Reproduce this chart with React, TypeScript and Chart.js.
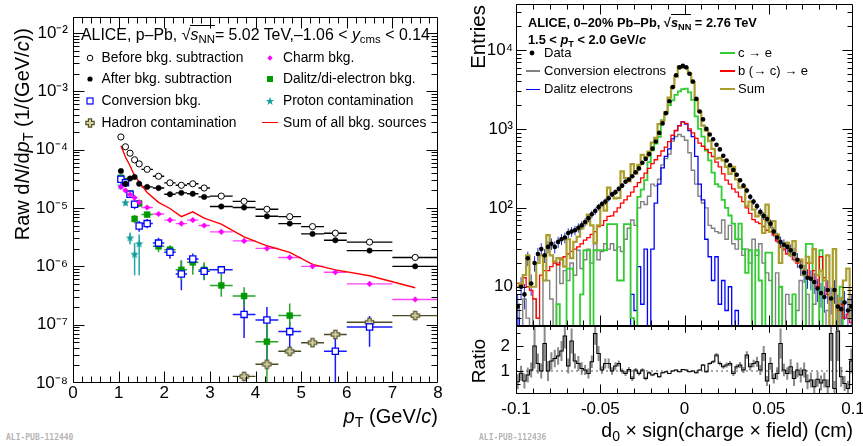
import React, { useEffect, useRef } from 'react';
import { Chart, registerables } from 'chart.js';
Chart.register(...registerables);

const FONT = '"Liberation Sans", Arial, Helvetica, sans-serif';

// ---------------- Left panel: raw pT spectra ----------------
const ptEdges = [1.0, 1.1, 1.2, 1.3, 1.4, 1.5, 1.75, 2.0, 2.25, 2.5, 2.75, 3.0, 3.5, 4.0, 4.5, 5.0, 5.5, 6.0, 7.0, 8.0];
const beforeSub = [1.65e-4, 1.12e-4, 8.7e-5, 6.7e-5, 5.7e-5, 4.6e-5, 3.5e-5, 2.7e-5, 2.45e-5, 2.6e-5, 2.2e-5, 1.6e-5, 1.3e-5, 9.5e-6, 7.1e-6, 4.8e-6, 3.7e-6, 2.6e-6, 1.42e-6];
const afterSub = [4.3e-5, 2.6e-5, 3.2e-5, 3.4e-5, 2.6e-5, 2.3e-5, 2.2e-5, 1.72e-5, 1.82e-5, 1.75e-5, 1.55e-5, 1.06e-5, 1.02e-5, 7.2e-6, 5.4e-6, 3.6e-6, 2.8e-6, 1.86e-6, 1.0e-6];
const charmBkg = [2.3e-5, 2.0e-5, 1.7e-5, 1.5e-5, 1.25e-5, 1.02e-5, 7.9e-6, 6.2e-6, 5.4e-6, 6.2e-6, 5.0e-6, 3.9e-6, 2.73e-6, 2.03e-6, 1.42e-6, 1.0e-6, 7.9e-7, 5.0e-7, 2.7e-7];
const conversionBkg = [3.1e-5, 2.7e-5, 1.72e-5, 1.16e-5, 4.9e-6, 5.4e-6, 2.5e-6, 1.74e-6, 7.4e-7, 1.34e-6, 8.2e-7, 8.7e-7, 1.5e-7, 1.2e-7, 7.6e-8, null, 3.5e-8, 9.1e-8, null];
const conversionLo = [2.6e-5, 2.3e-5, 1.5e-5, 9.5e-6, 3.9e-6, 4.5e-6, 2.0e-6, 1.35e-6, 3.9e-7, 8.9e-7, 5.9e-7, 7.5e-7, 5.9e-8, 2.2e-8, 3.2e-8, null, 1e-9, 4.2e-8, null];
const conversionHi = [3.6e-5, 3.2e-5, 2.0e-5, 1.4e-5, 6.0e-6, 6.5e-6, 3.1e-6, 2.2e-6, 1.26e-6, 1.66e-6, 1.07e-6, 1.0e-6, 2.95e-7, 2.0e-7, 1.12e-7, null, 5.9e-8, 1.41e-7, null];
const dalitzBkg = [3.3e-5, 2.9e-5, 1.78e-5, 6.5e-6, 1.2e-5, 7.7e-6, 2.2e-6, 1.93e-6, 8.7e-7, 1.17e-6, 8.7e-7, 4.7e-7, 3.1e-7, 5.1e-8, 1.43e-7, null, null, null, null];
const dalitzLo = [2.9e-5, 2.6e-5, 1.6e-5, 5.5e-6, 1.05e-5, 6.8e-6, 1.75e-6, 1.6e-6, 5.8e-7, 7.2e-7, 5.8e-7, 3.0e-7, 2.0e-7, 1e-9, 9.3e-8, null, null, null, null];
const dalitzHi = [3.7e-5, 3.2e-5, 2.0e-5, 7.6e-6, 1.35e-5, 8.6e-6, 2.6e-6, 2.3e-6, 1.26e-6, 1.58e-6, 1.17e-6, 7.4e-7, 4.4e-7, 1.2e-7, 2.3e-7, null, null, null, null];
const protonCont = [2.4e-5, 1.24e-5, 3.1e-6, 1.62e-6, 2.46e-6, null, null, null, null, null, null, null, null, null, null, null, null, null, null];
const protonLo = [2.1e-5, 1.1e-5, 2.4e-6, 7e-7, 7e-7, null, null, null, null, null, null, null, null, null, null, null, null, null, null];
const protonHi = [2.7e-5, 1.4e-5, 3.8e-6, 2.5e-6, 3.5e-6, null, null, null, null, null, null, null, null, null, null, null, null, null, null];
const hadronCont = [null, null, null, null, null, null, null, null, null, null, null, null, 1.3e-8, 2.1e-8, 3.5e-8, 4.9e-8, 6.8e-8, 1.1e-7, 1.43e-7];
const hadronLo = [null, null, null, null, null, null, null, null, null, null, null, null, 1.1e-8, 1.8e-8, 3.0e-8, 4.3e-8, 6.0e-8, 9.8e-8, 1.3e-7];
const hadronHi = [null, null, null, null, null, null, null, null, null, null, null, null, 1.5e-8, 2.4e-8, 4.0e-8, 5.5e-8, 7.6e-8, 1.25e-7, 1.6e-7];
const sumBkg = [1.17e-4, 7.5e-5, 5.3e-5, 3.6e-5, 2.8e-5, 1.85e-5, 1.25e-5, 9.8e-6, 7.1e-6, 8.6e-6, 6.7e-6, 5.3e-6, 3.2e-6, 2.25e-6, 1.74e-6, 1.08e-6, 8.7e-7, 6.9e-7, 4.3e-7];

const leftXTickValues = [0, 1, 2, 3, 4, 5, 6, 7, 8];
const leftXTickLabels = ['0', '1', '2', '3', '4', '5', '6', '7', '8'];
const leftYTickValues = [1e-8, 1e-7, 1e-6, 1e-5, 1e-4, 1e-3, 1e-2];
const leftYTickLabels = ['10⁻⁸', '10⁻⁷', '10⁻⁶', '10⁻⁵', '10⁻⁴', '10⁻³', '10⁻²'];
const LEFT_YMIN = 1e-8;
const LEFT_YMAX = 0.0188;

// ---------------- Right panel: d0 distributions ----------------
const D0_MIN = -0.1;
const D0_MAX = 0.1;
const D0_BIN = 0.002;
const dataEntries = [5.6, 10, 8, 23, 11, 20, 26, 30, 25, 32,
  35, 32, 37, 40, 42, 48, 50, 52, 56, 60,
  66, 74, 83, 91, 102, 112, 120, 132, 148, 158,
  174, 191, 214, 229, 251, 282, 316, 372, 417, 479,
  562, 692, 891, 1175, 1585, 2239, 3388, 4786, 6026, 6310,
  6030, 5010, 3980, 2400, 1660, 1320, 1000, 851, 741, 631,
  550, 457, 398, 347, 302, 263, 224, 191, 166, 138,
  120, 105, 89, 79, 72, 63, 50, 42, 37, 34,
  32, 29, 26, 22, 18, 15, 13, 12.6, 11.5, 9.5,
  8.3, 7.4, 9.1, 7.1, 9.1, 5.6, 5.2, 6.3, 5, 5.6];
const sumEntries = [10, 11, 14, 25, 10, 10, 20, 25, 12, 45,
  25, 21, 23, 22, 18, 40, 23, 37, 43, 55,
  63, 82, 60, 36, 60, 108, 92, 180, 148, 132,
  134, 290, 238, 216, 358, 271, 351, 470, 440, 515,
  670, 770, 1150, 1260, 1630, 2490, 3390, 4600, 6200, 5950,
  6000, 5000, 3900, 2400, 1650, 1100, 950, 700, 560, 420,
  430, 400, 330, 270, 330, 230, 180, 185, 105, 120,
  95, 78, 86, 48, 110, 50, 68, 46, 20, 33,
  36, 25, 38, 21, 22, 14, 24, 20, 30, 14,
  16, 12, 25, 3, 30, 2, 7, 12, 17, 4];
const charmEntries = [0, 0, 0, 0, 0, 0, 0, 0, 0, 0,
  0, 0, 6, 0, 0, 17, 17, 0, 0, 8,
  29, 29, 0, 29, 29, 29, 29, 62, 62, 62,
  12, 12, 62, 62, 4, 0, 138, 170, 224, 380,
  537, 650, 794, 1290, 1600, 2000, 2300, 2700, 3000, 3200,
  3240, 2900, 2340, 1440, 1000, 800, 530, 400, 280, 200,
  186, 126, 100, 80, 63, 40, 63, 30, 15, 29,
  0, 29, 12, 0, 27, 27, 0, 0, 10, 0,
  0, 0, 8, 0, 0, 0, 35, 35, 0, 0,
  29, 0, 0, 0, 0, 0, 10, 0, 0, 0];
const beautyEntries = [11, 10, 13, 10, 9, 7, 4, 14, 16, 16,
  18, 20, 19, 23, 24, 26, 28, 30, 32, 35,
  39, 42, 46, 50, 58, 60, 69, 78, 79, 89,
  100, 115, 126, 141, 158, 186, 209, 240, 275, 316,
  363, 407, 457, 525, 589, 692, 832, 955, 1096, 1230,
  1175, 1000, 891, 759, 661, 603, 550, 501, 447, 380,
  331, 269, 224, 200, 174, 158, 138, 120, 100, 85,
  71, 66, 63, 58, 52, 50, 45, 38, 32, 30,
  26, 25, 22, 20, 21, 16, 20, 13, 16, 10,
  24, 13, 8, 7, 9, 5, 6, 4, 4.5, 3.5];
const conversionEntries = [6, 0, 7, 4, 0, 7, 4, 0, 12, 12,
  7, 0, 20, 11, 16, 12, 20, 14, 29, 17,
  22, 30, 20, 35, 22, 28, 35, 30, 35, 29,
  32, 28, 40, 55, 70, 60, 100, 120, 110, 140,
  200, 190, 230, 350, 420, 480, 700, 800, 850, 800,
  720, 500, 300, 200, 140, 115, 100, 60, 55, 50,
  48, 70, 40, 60, 35, 30, 40, 25, 30, 20,
  40, 25, 35, 20, 15, 12, 0, 15, 10, 0,
  8, 6, 0, 5, 12, 0, 8, 0, 6, 10,
  0, 0, 5, 0, 0, 0, 0, 0, 0, 0];
const dalitzEntries = [4, 0, 0, 0, 0, 0, 0, 0, 0, 0,
  0, 0, 0, 0, 0, 0, 0, 0, 0, 0,
  0, 0, 0, 0, 0, 0, 0, 0, 0, 0,
  0, 0, 0, 0, 8, 5, 18, 6, 30, 0,
  30, 115, 200, 320, 450, 560, 750, 950, 1100, 1230,
  1150, 950, 800, 450, 200, 126, 40, 24, 12, 24,
  6, 12, 5, 10, 0, 5, 0, 0, 0, 0,
  0, 0, 0, 0, 0, 0, 0, 0, 0, 0,
  0, 0, 0, 0, 0, 0, 0, 0, 0, 0,
  0, 0, 0, 0, 0, 0, 0, 0, 0, 0];
const ratioValues = [0.57, 0.91, 0.6, 0.84, 1.04, 2.0, 1.3, 1.0, 2.1, 1.0,
  1.4, 1.5, 1.6, 1.8, 2.4, 1.2, 2.2, 1.4, 1.3, 1.1,
  1.04, 0.9, 1.37, 2.5, 1.7, 1.04, 1.3, 1.3, 1.0, 1.2,
  1.3, 1.0, 0.9, 1.06, 0.7, 1.04, 0.9, 1.04, 0.7, 0.93,
  0.84, 0.9, 0.77, 0.93, 0.97, 0.9, 1.0, 1.04, 0.97, 1.06,
  1.04, 0.97, 1.0, 0.93, 1.04, 1.24, 0.97, 1.3, 1.37, 1.64,
  1.3, 1.17, 1.24, 1.3, 0.9, 1.17, 1.24, 1.04, 1.64, 1.17,
  1.3, 1.37, 1.04, 1.7, 0.6, 1.3, 0.7, 0.9, 2.1, 1.04,
  0.9, 1.17, 0.7, 1.04, 0.84, 1.04, 0.57, 0.64, 0.37, 0.67,
  0.52, 0.64, 0.37, 2.5, 0.3, 2.6, 0.77, 0.5, 0.3, 1.4];
const ratioErrors = [0.3, 0.3, 0.3, 0.3, 0.3, 0.9, 0.4, 0.3, 0.7, 0.4,
  0.35, 0.35, 0.35, 0.4, 0.5, 0.3, 0.5, 0.3, 0.3, 0.25,
  0.2, 0.2, 0.25, 0.45, 0.3, 0.15, 0.2, 0.2, 0.15, 0.15,
  0.12, 0.1, 0.1, 0.1, 0.1, 0.08, 0.08, 0.07, 0.07, 0.06,
  0.05, 0.04, 0.04, 0.03, 0.03, 0.02, 0.02, 0.02, 0.02, 0.02,
  0.02, 0.02, 0.02, 0.03, 0.03, 0.04, 0.04, 0.05, 0.06, 0.08,
  0.08, 0.08, 0.1, 0.1, 0.1, 0.1, 0.12, 0.12, 0.15, 0.15,
  0.15, 0.2, 0.2, 0.3, 0.2, 0.25, 0.2, 0.25, 0.6, 0.25,
  0.25, 0.3, 0.3, 0.3, 0.3, 0.3, 0.3, 0.3, 0.3, 0.3,
  0.3, 0.3, 0.3, 1.1, 0.3, 1.2, 0.4, 0.3, 0.3, 0.5];

const entriesTickValues = [10, 100, 1000, 10000];
const entriesTickLabels = ['10', '10²', '10³', '10⁴'];
const ratioTickValues = [1, 2];
const ratioTickLabels = ['1', '2'];
const d0TickValues = [-0.1, -0.05, 0, 0.05, 0.1];
const d0TickLabels = ['-0.1', '-0.05', '0', '0.05', '0.1'];
const TOP_YMIN = 3.18;
const TOP_YMAX = 38300;
const RATIO_YMIN = 0.08;
const RATIO_YMAX = 2.8;

// ---------------- helpers ----------------
const ptLow = ptEdges.slice(0, -1);
const ptHigh = ptEdges.slice(1);
const ptCenters = ptLow.map((e, i) => (e + ptHigh[i]) / 2);
const binEdges = Array.from({ length: Math.round((D0_MAX - D0_MIN) / D0_BIN) + 1 }, (_, i) => +(D0_MIN + D0_BIN * i).toFixed(4));
const binCenters = binEdges.slice(0, -1).map((e, i) => (e + binEdges[i + 1]) / 2);

const ptPts = (vals: (number | null)[]) => vals.map((v, i) => ({ x: ptCenters[i], y: v }));
const histPts = (vals: number[], floor: number) => {
  const p = vals.map((v, i) => ({ x: binEdges[i], y: v > 0 ? v : floor }));
  p.push({ x: binEdges[vals.length], y: vals[vals.length - 1] > 0 ? vals[vals.length - 1] : floor });
  return p;
};

function logMinor(min: number, max: number) {
  const out: number[] = [];
  for (let d = Math.floor(Math.log10(min)); d <= Math.ceil(Math.log10(max)); d++) {
    for (let k = 2; k <= 9; k++) {
      const v = k * Math.pow(10, d);
      if (v > min && v < max) out.push(v);
    }
  }
  return out;
}
function linTicks(min: number, max: number, step: number) {
  const out: number[] = [];
  const n = Math.round((max - min) / step);
  for (let i = 0; i <= n; i++) out.push(+(min + i * step).toFixed(6));
  return out;
}

function makeFrame(cfg: any) {
  return {
    id: 'rootFrame',
    afterDatasetsDraw(chart: any) {
      const { ctx, chartArea: a } = chart;
      const xs = chart.scales.x, ys = chart.scales.y;
      const L = Math.round(a.left) + 0.5, R = Math.round(a.right) - 0.5;
      const T = Math.round(a.top) + 0.5, B = Math.round(a.bottom) - 0.5;
      ctx.save();
      ctx.strokeStyle = '#000';
      ctx.lineWidth = 1;
      ctx.beginPath();
      ctx.rect(L, T, R - L, B - T);
      const xt = (vals: number[], len: number) => vals.forEach((v) => {
        const p = Math.round(xs.getPixelForValue(v)) + 0.5;
        if (p < L - 0.1 || p > R + 0.1) return;
        ctx.moveTo(p, B); ctx.lineTo(p, B - len);
        ctx.moveTo(p, T); ctx.lineTo(p, T + len * (cfg.topScale ?? 1));
      });
      const yt = (vals: number[], len: number) => vals.forEach((v) => {
        const p = Math.round(ys.getPixelForValue(v)) + 0.5;
        if (p < T - 0.1 || p > B + 0.1) return;
        ctx.moveTo(L, p); ctx.lineTo(L + len, p);
        ctx.moveTo(R, p); ctx.lineTo(R - len, p);
      });
      xt(cfg.xMajor, cfg.xMaj); xt(cfg.xMinor, cfg.xMin);
      yt(cfg.yMajor, cfg.yMaj); yt(cfg.yMinor, cfg.yMin);
      ctx.stroke();
      ctx.restore();
    },
  };
}

const errorBars = {
  id: 'errorBars',
  beforeDatasetsDraw(chart: any) {
    const { ctx, chartArea: a } = chart;
    const xs = chart.scales.x, ys = chart.scales.y;
    ctx.save();
    ctx.beginPath();
    ctx.rect(a.left, a.top, a.right - a.left, a.bottom - a.top);
    ctx.clip();
    chart.data.datasets.forEach((ds: any) => {
      const e = ds.err;
      if (!e) return;
      ctx.strokeStyle = e.color;
      ctx.lineWidth = e.width;
      ctx.beginPath();
      ds.data.forEach((p: any, i: number) => {
        if (!p || p.y == null) return;
        const px = xs.getPixelForValue(p.x);
        const py = ys.getPixelForValue(p.y);
        if (e.xlo) {
          ctx.moveTo(xs.getPixelForValue(e.xlo[i]), py);
          ctx.lineTo(xs.getPixelForValue(e.xhi[i]), py);
        }
        if (e.lo && e.lo[i] != null && e.hi[i] != null) {
          const lo = e.lo[i] > 0 ? ys.getPixelForValue(e.lo[i]) : a.bottom + 10;
          ctx.moveTo(px, lo);
          ctx.lineTo(px, ys.getPixelForValue(e.hi[i]));
        }
      });
      ctx.stroke();
    });
    ctx.restore();
  },
};

function starCanvas(color: string) {
  const c = document.createElement('canvas');
  c.width = 9; c.height = 9;
  const g = c.getContext('2d')!;
  g.fillStyle = color;
  g.beginPath();
  for (let k = 0; k < 10; k++) {
    const r = k % 2 === 0 ? 4.4 : 1.8;
    const ang = -Math.PI / 2 + (k * Math.PI) / 5;
    const x = 4.5 + r * Math.cos(ang), y = 4.9 + r * Math.sin(ang);
    if (k === 0) g.moveTo(x, y); else g.lineTo(x, y);
  }
  g.closePath();
  g.fill();
  return c;
}
function crossCanvas(stroke: string, fill: string) {
  const c = document.createElement('canvas');
  c.width = 11; c.height = 11;
  const g = c.getContext('2d')!;
  const m = 5.5, h = 1.6, L = 4.2;
  const pts = [[m - h, m - L], [m + h, m - L], [m + h, m - h], [m + L, m - h], [m + L, m + h], [m + h, m + h], [m + h, m + L], [m - h, m + L], [m - h, m + h], [m - L, m + h], [m - L, m - h], [m - h, m - h]];
  g.beginPath();
  pts.forEach(([x, y], i) => (i === 0 ? g.moveTo(x, y) : g.lineTo(x, y)));
  g.closePath();
  g.fillStyle = fill; g.fill();
  g.strokeStyle = stroke; g.lineWidth = 1.2; g.stroke();
  return c;
}

const tickFont = (size: number) => ({ family: FONT, size });
const noPad = (s: any) => { s.paddingTop = 0; s.paddingBottom = 0; s.paddingLeft = 0; s.paddingRight = 0; };

// ---------------- overlay text helpers ----------------
const Sub = ({ children }: any) => <sub style={{ fontSize: '0.72em', verticalAlign: '-0.28em', lineHeight: 0 }}>{children}</sub>;
const RootS = ({ gap }: any) => (
  <span>√<span style={{ borderTop: '1px solid #000' }}><i>s</i><Sub>NN</Sub></span>{gap ? ' ' : ''}</span>
);
const Txt = ({ x, y, size = 13, bold, children, style }: any) => (
  <div style={{ position: 'absolute', left: x, top: y, whiteSpace: 'nowrap', fontFamily: FONT, fontSize: size, lineHeight: '18px', fontWeight: bold ? 'bold' : 'normal', color: '#000', ...style }}>{children}</div>
);
const Mk = ({ x, y, children }: any) => (
  <svg width={12} height={12} style={{ position: 'absolute', left: x - 6, top: y - 6 }}>{children}</svg>
);
const LLine = ({ x1, x2, y, color, w = 1.5 }: any) => (
  <div style={{ position: 'absolute', left: x1, top: y - w / 2, width: x2 - x1, height: w, background: color }} />
);

export default function App() {
  const leftRef = useRef<HTMLCanvasElement>(null);
  const topRef = useRef<HTMLCanvasElement>(null);
  const ratioRef = useRef<HTMLCanvasElement>(null);

  useEffect(() => {
    const charts: Chart[] = [];
    const star = starCanvas('#139c9c');
    const cross = crossCanvas('#55552a', '#d8d2a6');
    const xErr = (color: string, lo?: any[], hi?: any[], width = 1.4) => ({ xlo: ptLow, xhi: ptHigh, lo, hi, color, width });

    // ---------- left chart ----------
    charts.push(new Chart(leftRef.current!, {
      type: 'scatter',
      data: {
        datasets: [
          { label: 'Before bkg. subtraction', data: ptPts(beforeSub), pointStyle: 'circle', pointRadius: 3.1, backgroundColor: '#fff', borderColor: '#000', borderWidth: 1, err: xErr('#000') } as any,
          { label: 'After bkg. subtraction', data: ptPts(afterSub), pointStyle: 'circle', pointRadius: 2.7, backgroundColor: '#000', borderColor: '#000', borderWidth: 0.5, err: xErr('#000') },
          { label: 'Charm bkg.', data: ptPts(charmBkg), pointStyle: 'rectRot', pointRadius: 2.8, backgroundColor: '#ff00ff', borderColor: '#ff00ff', borderWidth: 0.5, err: xErr('#ff44ff') },
          { label: 'Conversion bkg.', data: ptPts(conversionBkg), pointStyle: 'rect', pointRadius: 4.4, backgroundColor: '#fff', borderColor: '#0000ff', borderWidth: 1.3, err: xErr('#1a1aff', conversionLo, conversionHi, 1.5) },
          { label: 'Dalitz/di-electron bkg.', data: ptPts(dalitzBkg), pointStyle: 'rect', pointRadius: 4.2, backgroundColor: '#009900', borderColor: '#009900', borderWidth: 0.5, err: xErr('#2aa52a', dalitzLo, dalitzHi, 1.5) },
          { label: 'Proton contamination', data: ptPts(protonCont), pointStyle: star, err: xErr('#22a5a5', protonLo, protonHi, 1.5) },
          { label: 'Hadron contamination', data: ptPts(hadronCont), pointStyle: cross, err: xErr('#4a4a28', hadronLo, hadronHi, 1.4) },
          { label: 'Sum of all bkg. sources', data: ptPts(sumBkg), showLine: true, pointRadius: 0, borderColor: '#ff0000', borderWidth: 1.4, tension: 0 },
        ] as any,
      },
      options: {
        responsive: false, animation: false, devicePixelRatio: 1,
        layout: { padding: { left: 0, right: 12, top: 17, bottom: 0 } },
        plugins: { legend: { display: false }, tooltip: { enabled: false } },
        scales: {
          x: {
            type: 'linear', min: 0, max: 8,
            grid: { display: false, drawTicks: false }, border: { display: false },
            ticks: { font: tickFont(17), color: '#000', padding: 0, autoSkip: false, maxRotation: 0, callback: (_v: any, i: number) => leftXTickLabels[i] },
            afterBuildTicks: (s: any) => { s.ticks = leftXTickValues.map((v) => ({ value: v })); },
            afterFit: (s: any) => { s.height = 37; noPad(s); },
          },
          y: {
            type: 'logarithmic', min: LEFT_YMIN, max: LEFT_YMAX,
            grid: { display: false, drawTicks: false }, border: { display: false },
            ticks: { font: tickFont(17), color: '#000', padding: 5, autoSkip: false, callback: (_v: any, i: number) => leftYTickLabels[i] },
            afterBuildTicks: (s: any) => { s.ticks = leftYTickValues.map((v) => ({ value: v })); },
            afterFit: (s: any) => { s.width = 73; noPad(s); },
          },
        },
      } as any,
      plugins: [errorBars, makeFrame({ xMajor: leftXTickValues, xMinor: linTicks(0, 8, 0.2), yMajor: leftYTickValues, yMinor: logMinor(LEFT_YMIN, LEFT_YMAX), xMaj: 11, xMin: 6, yMaj: 11, yMin: 6 })],
    }));

    // ---------- right top chart ----------
    const stepDs = (label: string, vals: number[], color: string, width: number) => ({
      label, data: histPts(vals, TOP_YMIN), showLine: true, stepped: true, pointRadius: 0, borderColor: color, borderWidth: width, tension: 0,
    });
    charts.push(new Chart(topRef.current!, {
      type: 'scatter',
      data: {
        datasets: [
          { label: 'Data', data: binCenters.map((x, i) => ({ x, y: dataEntries[i] })), pointStyle: 'circle', pointRadius: 2.3, backgroundColor: '#000', borderColor: '#000', borderWidth: 0,
            err: { lo: dataEntries.map((v) => v - Math.sqrt(v)), hi: dataEntries.map((v) => v + Math.sqrt(v)), color: '#2030d0', width: 1 } } as any,
          stepDs('Sum', sumEntries, '#aa9f2e', 2.2),
          stepDs('b (→ c) → e', beautyEntries, '#ff0000', 1.3),
          stepDs('c → e', charmEntries, '#33cc33', 1.8),
          stepDs('Dalitz electrons', dalitzEntries, '#0000ff', 1.3),
          stepDs('Conversion electrons', conversionEntries, '#808080', 1.4),
        ] as any,
      },
      options: {
        responsive: false, animation: false, devicePixelRatio: 1,
        layout: { padding: { left: 0, right: 10, top: 4, bottom: 4 } },
        plugins: { legend: { display: false }, tooltip: { enabled: false } },
        scales: {
          x: { type: 'linear', min: D0_MIN, max: D0_MAX, display: false, afterFit: noPad },
          y: {
            type: 'logarithmic', min: TOP_YMIN, max: TOP_YMAX,
            grid: { display: false, drawTicks: false }, border: { display: false },
            ticks: { font: tickFont(17), color: '#000', padding: 3, autoSkip: false, callback: (_v: any, i: number) => entriesTickLabels[i] },
            afterBuildTicks: (s: any) => { s.ticks = entriesTickValues.map((v) => ({ value: v })); },
            afterFit: (s: any) => { s.width = 76; noPad(s); },
          },
        },
      } as any,
      plugins: [errorBars, makeFrame({ xMajor: d0TickValues, xMinor: linTicks(D0_MIN, D0_MAX, 0.01), yMajor: entriesTickValues, yMinor: logMinor(TOP_YMIN, TOP_YMAX), xMaj: 10, xMin: 5, yMaj: 10, yMin: 5 })],
    }));

    // ---------- ratio chart ----------
    charts.push(new Chart(ratioRef.current!, {
      type: 'scatter',
      data: {
        datasets: [
          { label: 'Ratio', data: histPts(ratioValues, RATIO_YMIN), showLine: true, stepped: true, pointRadius: 0, borderColor: '#000', borderWidth: 1.1, tension: 0 },
          { label: 'one', data: [{ x: D0_MIN, y: 1 }, { x: D0_MAX, y: 1 }], showLine: true, pointRadius: 0, borderColor: '#555', borderWidth: 1, borderDash: [2, 3] },
          { label: 'err', data: binCenters.map((x, i) => ({ x, y: ratioValues[i] })), pointRadius: 0,
            err: { lo: ratioValues.map((v, i) => v - ratioErrors[i]), hi: ratioValues.map((v, i) => v + ratioErrors[i]), color: '#8a8a8a', width: 2 } },
        ] as any,
      },
      options: {
        responsive: false, animation: false, devicePixelRatio: 1,
        layout: { padding: { left: 0, right: 10, top: 6, bottom: 0 } },
        plugins: { legend: { display: false }, tooltip: { enabled: false } },
        scales: {
          x: {
            type: 'linear', min: D0_MIN, max: D0_MAX,
            grid: { display: false, drawTicks: false }, border: { display: false },
            ticks: { font: tickFont(17), color: '#000', padding: 5, autoSkip: false, maxRotation: 0, callback: (_v: any, i: number) => d0TickLabels[i] },
            afterBuildTicks: (s: any) => { s.ticks = d0TickValues.map((v) => ({ value: v })); },
            afterFit: (s: any) => { s.height = 52; noPad(s); },
          },
          y: {
            type: 'linear', min: RATIO_YMIN, max: RATIO_YMAX,
            grid: { display: false, drawTicks: false }, border: { display: false },
            ticks: { font: tickFont(17), color: '#000', padding: 6, autoSkip: false, callback: (_v: any, i: number) => ratioTickLabels[i] },
            afterBuildTicks: (s: any) => { s.ticks = ratioTickValues.map((v) => ({ value: v })); },
            afterFit: (s: any) => { s.width = 76; noPad(s); },
          },
        },
      } as any,
      plugins: [errorBars, makeFrame({ xMajor: d0TickValues, xMinor: linTicks(D0_MIN, D0_MAX, 0.01), yMajor: ratioTickValues, yMinor: [0.5, 1.5, 2.5], xMaj: 9, xMin: 5, yMaj: 7, yMin: 4, topScale: 0.7 })],
    }));

    return () => charts.forEach((c) => c.destroy());
  }, []);

  const lrows = [57.7, 79.3, 100.8, 122.7];
  const rrows = [53.3, 71, 89.3];

  return (
    <div style={{ position: 'fixed', left: 0, top: 0, width: 863, height: 446, background: '#fff', overflow: 'hidden', fontFamily: FONT }}>
      <canvas ref={leftRef} width={450} height={420} style={{ position: 'absolute', left: 0, top: 0 }} />
      <canvas ref={topRef} width={423} height={330} style={{ position: 'absolute', left: 440, top: 0 }} />
      <canvas ref={ratioRef} width={423} height={126} style={{ position: 'absolute', left: 440, top: 320 }} />

      {/* ---- left panel texts ---- */}
      <Txt x={81} y={26} size={15.9}>ALICE, p–Pb, <RootS />= 5.02 TeV,–1.06 &lt; <i>y</i><Sub>cms</Sub> &lt; 0.14</Txt>
      <Mk x={90} y={lrows[0]}><circle cx={6} cy={6} r={2.8} fill="#fff" stroke="#000" strokeWidth={1} /></Mk>
      <Txt x={101.5} y={lrows[0] - 9} size={13.8}>Before bkg. subtraction</Txt>
      <Mk x={90} y={lrows[1]}><circle cx={6} cy={6} r={2.6} fill="#000" /></Mk>
      <Txt x={101.5} y={lrows[1] - 9} size={13.8}>After bkg. subtraction</Txt>
      <Mk x={90} y={lrows[2]}><rect x={3} y={3} width={6} height={6} fill="#fff" stroke="#0000ff" strokeWidth={1.2} /></Mk>
      <Txt x={101.5} y={lrows[2] - 9} size={13.8}>Conversion bkg.</Txt>
      <Mk x={90} y={lrows[3]}><path d="M4.4 1.8 H7.6 V4.4 H10.2 V7.6 H7.6 V10.2 H4.4 V7.6 H1.8 V4.4 H4.4 Z" fill="#d8d2a6" stroke="#55552a" strokeWidth={1.2} /></Mk>
      <Txt x={101.5} y={lrows[3] - 9} size={13.8}>Hadron contamination</Txt>
      <Mk x={270} y={lrows[0]}><path d="M6 3.2 L8.6 6 L6 8.8 L3.4 6 Z" fill="#ff00ff" /></Mk>
      <Txt x={283} y={lrows[0] - 9} size={13.8}>Charm bkg.</Txt>
      <Mk x={270} y={lrows[1]}><rect x={3} y={3} width={6} height={6} fill="#009900" /></Mk>
      <Txt x={283} y={lrows[1] - 9} size={13.8}>Dalitz/di-electron bkg.</Txt>
      <Mk x={270} y={lrows[2]}><path d="M6 1.8 L7 4.9 L10.2 4.9 L7.6 6.8 L8.6 9.9 L6 8 L3.4 9.9 L4.4 6.8 L1.8 4.9 L5 4.9 Z" fill="#139c9c" /></Mk>
      <Txt x={283} y={lrows[2] - 9} size={13.8}>Proton contamination</Txt>
      <LLine x1={262} x2={278} y={lrows[3]} color="#ff0000" w={1.5} />
      <Txt x={283} y={lrows[3] - 9} size={13.8}>Sum of all bkg. sources</Txt>

      <div style={{ position: 'absolute', left: 10, top: 268, width: 240, textAlign: 'right', transform: 'rotate(-90deg)', transformOrigin: '0 0', whiteSpace: 'nowrap', fontSize: 20, lineHeight: '24px' }}>
        Raw d<i>N</i>/d<i>p</i><Sub>T</Sub> (1/(GeV/<i>c</i>))
      </div>
      <div style={{ position: 'absolute', left: 238, top: 404, width: 200, textAlign: 'right', whiteSpace: 'nowrap', fontSize: 20, lineHeight: '24px' }}>
        <i>p</i><Sub>T</Sub> (GeV/<i>c</i>)
      </div>

      {/* ---- right panel texts ---- */}
      <Txt x={528} y={14} size={12.8} bold>ALICE, 0–20% Pb–Pb, <RootS gap />= 2.76 TeV</Txt>
      <Txt x={528} y={31} size={12.8} bold>1.5 &lt; <i>p</i><Sub>T</Sub> &lt; 2.0 GeV/<i>c</i></Txt>
      <Mk x={531.7} y={rrows[0]}><circle cx={6} cy={6} r={2.4} fill="#000" /></Mk>
      <Txt x={544} y={rrows[0] - 9}>Data</Txt>
      <LLine x1={526} x2={540} y={rrows[1]} color="#808080" w={1.4} />
      <Txt x={544} y={rrows[1] - 9}>Conversion electrons</Txt>
      <LLine x1={526} x2={540} y={rrows[2]} color="#0000ff" w={1.5} />
      <Txt x={544} y={rrows[2] - 9}>Dalitz electrons</Txt>
      <LLine x1={720} x2={735} y={rrows[0]} color="#33cc33" w={2} />
      <Txt x={738} y={rrows[0] - 9}>c → e</Txt>
      <LLine x1={720} x2={735} y={rrows[1]} color="#ff0000" w={1.5} />
      <Txt x={738} y={rrows[1] - 9}>b (→ c) → e</Txt>
      <LLine x1={720} x2={735} y={rrows[2]} color="#aa9f2e" w={2.2} />
      <Txt x={738} y={rrows[2] - 9}>Sum</Txt>

      <div style={{ position: 'absolute', left: 466, top: 105, width: 100, textAlign: 'right', transform: 'rotate(-90deg)', transformOrigin: '0 0', whiteSpace: 'nowrap', fontSize: 20.5, lineHeight: '24px' }}>Entries</div>
      <div style={{ position: 'absolute', left: 467, top: 411, width: 100, textAlign: 'center', transform: 'rotate(-90deg)', transformOrigin: '0 0', whiteSpace: 'nowrap', fontSize: 19, lineHeight: '24px' }}>Ratio</div>
      <div style={{ position: 'absolute', left: 553, top: 418, width: 300, textAlign: 'right', whiteSpace: 'nowrap', fontSize: 19.5, lineHeight: '24px' }}>
        d<Sub>0</Sub> × sign(charge × field) (cm)
      </div>

      <div style={{ position: 'absolute', left: 6, top: 433, fontFamily: '"DejaVu Sans Mono", monospace', fontSize: 8, fontWeight: 'bold', color: '#b4b4b4' }}>ALI-PUB-112440</div>
      <div style={{ position: 'absolute', left: 479, top: 433, fontFamily: '"DejaVu Sans Mono", monospace', fontSize: 8, fontWeight: 'bold', color: '#b4b4b4' }}>ALI-PUB-112436</div>
    </div>
  );
}
